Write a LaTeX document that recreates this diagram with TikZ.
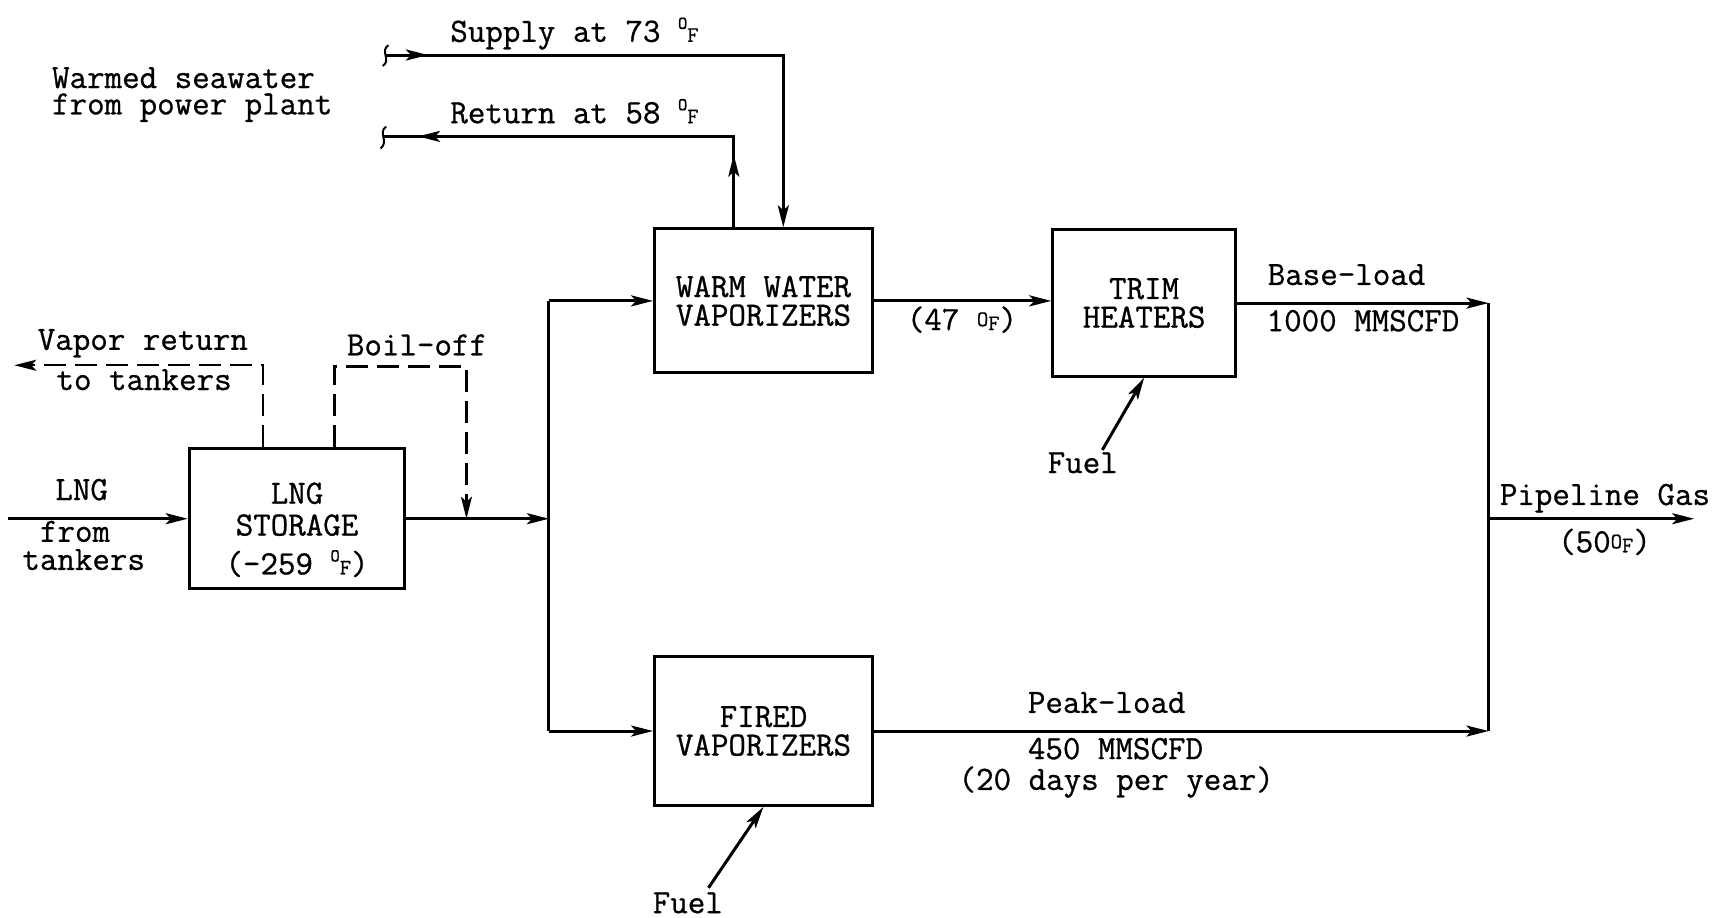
\documentclass[tikz,border=0pt]{standalone}
\usepackage{fontspec}
\setmonofont{Latin Modern Mono}[FakeBold=0.8]
\usetikzlibrary{arrows.meta}
\newcommand{\dgF}{{\fontsize{18}{18}\selectfont\raisebox{13pt}{O}}{\fontsize{22}{22}\selectfont F}}
\newcommand{\dgFs}{{\fontsize{22}{22}\selectfont\raisebox{4pt}{O}F}}
\begin{document}
\begin{tikzpicture}[x=1.1pt,y=-1.1pt, line width=3pt,
  box/.style={draw, line width=3pt, inner sep=0pt, align=center, font=\ttfamily\fontsize{34}{28.6}\selectfont},
  lbl/.style={inner sep=0pt, anchor=base west, font=\ttfamily\fontsize{34}{34}\selectfont},
  arr/.style={-{Stealth[length=22pt,width=11pt,inset=5pt]}},
  dsh/.style={dash pattern=on 22pt off 9pt, line width=2.4pt},
  sq/.style={line width=2pt}]
\useasboundingbox (0,0) rectangle (1568,834);

% boxes
\node[box, minimum width=215.6pt, minimum height=139.7pt] (lng) at (270,471.5)
  {\raisebox{-14pt}[\height][\depth]{\begin{tabular}{@{}c@{}}LNG\\[2pt]STORAGE\\[6pt](-259 \dgF)\end{tabular}}};
\node[box, minimum width=217.8pt, minimum height=144.1pt] (wwv) at (694,273.5) {WARM WATER\\VAPORIZERS};
\node[box, minimum width=182.6pt, minimum height=146.3pt] (trim) at (1040,275.5) {TRIM\\HEATERS};
\node[box, minimum width=217.8pt, minimum height=148.5pt] (fired) at (694,664.5) {FIRED\\VAPORIZERS};

% coordinates
\coordinate (src) at (7.6,471.5);
\coordinate (sp) at (499,471.5);
\coordinate (col) at (1353,471.5);
\coordinate (out) at (1540,471.5);
\coordinate (sup0) at (350,50);
\coordinate (supC) at (712,50);
\coordinate (ret0) at (348,124);
\coordinate (retA) at (423,124);
\coordinate (retC) at (667,124);
\coordinate (vap0) at (13,332);
\coordinate (vapC) at (239,332);
\coordinate (boA) at (304,333);
\coordinate (boB) at (424,333);
\coordinate (f1) at (1002,409);
\coordinate (f2) at (644,807);

% main flow
\draw[arr] (src) -- (lng.west);
\draw[arr] (lng.east) -- (sp);
\draw (sp |- wwv.west) -- (sp |- fired.west);
\draw[arr] (sp |- wwv.west) -- (wwv.west);
\draw[arr] (sp |- fired.west) -- (fired.west);
\draw[arr] (wwv.east) -- (wwv.east -| trim.west);
\draw[arr] (trim.east) -- (trim.east -| col);
\draw[arr] (fired.east) -- (fired.east -| col);
\draw (col |- trim.east) -- (col |- fired.east);
\draw[arr] (col) -- (out);

% seawater supply / return
\draw[arr] (sup0) -- (supC) -- (supC |- wwv.north);
\draw[arr] (sup0) -- ++(39,0);
\draw (retC |- wwv.north) -- (retC) -- (ret0);
\draw[arr] (retC |- wwv.north) -- ++(0,-66);
\draw[arr] (retA) -- ++(-43,0);
\draw[sq] (353,41) .. controls (345,47) and (356,54) .. (348,60);
\draw[sq] (351,115) .. controls (343,121) and (354,128) .. (346,135);

% dashed vapour lines
\draw[dsh, arr] (vapC |- lng.north) -- (vapC) -- (vap0);
\draw[dsh, arr] (boA |- lng.north) -- (boA) -- (boB) -- (boB |- lng.east);

% fuel
\draw[arr] (f1) -- (trim.south);
\draw[arr] (f2) -- (fired.south);

% labels
\node[lbl] (tsup) at (408,38) {Supply at 73 \dgF};
\node[lbl] (tret) at (408,112) {Return at 58 \dgF};
\node[lbl] (tsea1) at (46,80) {Warmed seawater};
\node[lbl] (tsea2) at (46,104) {from power plant};
\node[lbl] (tvap1) at (33,318) {Vapor return};
\node[lbl] (tvap2) at (50,354.5) {to tankers};
\node[lbl] (tboil) at (314,323) {Boil-off};
\node[lbl] (tlng1) at (49,454.5) {LNG};
\node[lbl] (tlng2) at (35,492.5) {from};
\node[lbl] (tlng3) at (19,518) {tankers};
\node[lbl] (t47) at (823,300) {(47 \dgFs)};
\node[lbl] (tbase1) at (1151,259) {Base-load};
\node[lbl] (tbase2) at (1150,301) {1000 MMSCFD};
\node[lbl] (tfuel1) at (951,430) {Fuel};
\node[lbl] (tpipe1) at (1362,459) {Pipeline Gas};
\node[lbl] (tpipe2) at (1415,502) {(50\dgFs)};
\node[lbl] (tpeak1) at (933,648) {Peak-load};
\node[lbl] (tpeak2) at (933,690) {450 MMSCFD};
\node[lbl] (tpeak3) at (870,718) {(20 days per year)};
\node[lbl] (tfuel2) at (592,830) {Fuel};
\end{tikzpicture}
\end{document}
